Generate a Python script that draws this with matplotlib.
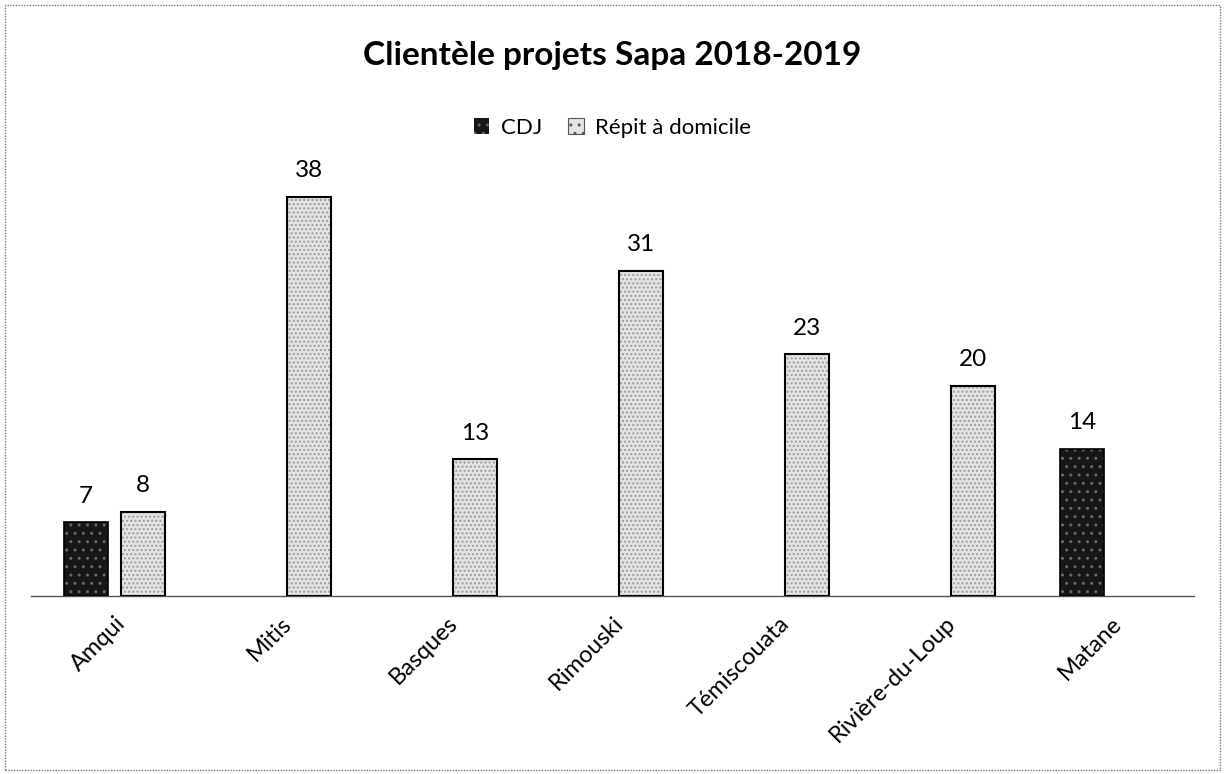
import numpy as np
import matplotlib
matplotlib.use("Agg")
import matplotlib.pyplot as plt
from matplotlib.patches import Rectangle

plt.rcParams['font.family'] = ['Lato', 'DejaVu Sans']

regions = ['Amqui', 'Mitis', 'Basques', 'Rimouski', 'Témiscouata',
           'Rivière-du-Loup', 'Matane']
cdj = [7, 0, 0, 0, 0, 0, 14]
repit = [8, 38, 13, 31, 23, 20, 0]

x = np.arange(len(regions))
w = 0.265
off = 0.172

# zero values are not drawn
cdj_v = np.array([v if v else np.nan for v in cdj], dtype=float)
rep_v = np.array([v if v else np.nan for v in repit], dtype=float)

fig = plt.figure(figsize=(12.25, 7.74), dpi=100)
ax = fig.add_axes([0.0257, 0.23, 0.9486, 0.5426])

# stippled fills: hatch layer then outline
ax.bar(x - off, cdj_v, w, color='#161616', edgecolor='#6a6a6a',
       hatch='..', linewidth=0, zorder=2)
ax.bar(x + off, rep_v, w, color='#e4e4e4', edgecolor='#9a9a9a',
       hatch='....', linewidth=0, zorder=2)
ax.bar(x - off, cdj_v, w, fill=False, edgecolor='black', linewidth=1.2, zorder=3)
ax.bar(x + off, rep_v, w, fill=False, edgecolor='black', linewidth=1.5, zorder=3)

for xi, v in zip(x, cdj):
    if v:
        ax.text(xi - off, v + 1.5, str(v), ha='center', va='bottom', fontsize=17.5)
for xi, v in zip(x, repit):
    if v:
        ax.text(xi + off, v + 1.5, str(v), ha='center', va='bottom', fontsize=17.5)

ax.set_xlim(-0.5, len(regions) - 0.5)
ax.set_ylim(0, 40)
ax.set_yticks([])
for s in ['top', 'right', 'left']:
    ax.spines[s].set_visible(False)
ax.spines['bottom'].set_color('#555555')
ax.spines['bottom'].set_linewidth(1.0)
ax.set_xticks(x)
ax.set_xticklabels(regions, rotation=45, ha='right', rotation_mode='anchor',
                   fontsize=17)
ax.tick_params(axis='x', length=0, pad=12)

fig.text(0.5, 0.928, 'Clientèle projets Sapa 2018-2019', ha='center',
         va='center', fontsize=24, fontweight='bold')

h1 = Rectangle((0, 0), 1, 1, facecolor='#161616', edgecolor='#6a6a6a', hatch='..', linewidth=0)
h2 = Rectangle((0, 0), 1, 1, facecolor='#e4e4e4', edgecolor='#555555', hatch='..', linewidth=0.8)
fig.legend([h1, h2], ['CDJ', 'Répit à domicile'], loc='center',
           bbox_to_anchor=(0.5, 0.835), ncol=2, frameon=False, fontsize=16,
           handlelength=0.7, handleheight=0.7, handletextpad=0.5,
           columnspacing=1.2)

fig.patches.append(Rectangle((0.004, 0.005), 0.992, 0.988, transform=fig.transFigure,
                             fill=False, edgecolor='#777777', linewidth=1.0,
                             linestyle=(0, (1, 1))))

fig.savefig('out.png', dpi=100)
